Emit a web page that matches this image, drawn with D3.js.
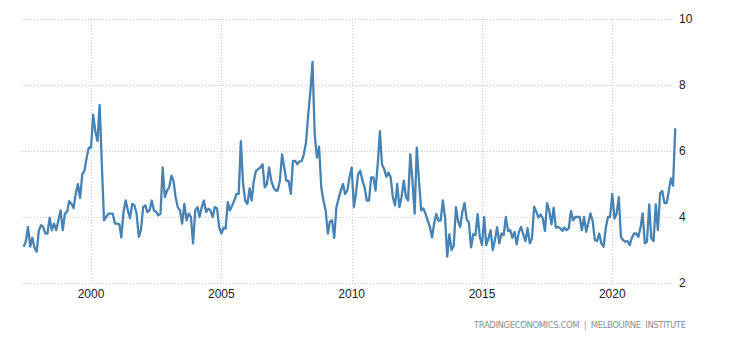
<!DOCTYPE html>
<html>
<head>
<meta charset="utf-8">
<script src="https://cdn.jsdelivr.net/npm/d3@7"></script>
<style>
  body { margin: 0; background: #fff; }
  svg { display: block; font-family: "Liberation Sans", Arial, sans-serif; }
  .grid line { stroke: #c8c8c8; stroke-width: 1; stroke-dasharray: 1,2; }
  .tick-label { font-size: 12px; fill: #222; }
</style>
</head>
<body>
<svg width="730" height="340"></svg>
<script>
// monthly series, first value is June 1997
var startYear = 1997, startMonth = 5;
var values = [
  3.1, 3.25, 3.7, 3.1, 3.37, 3.06, 2.95, 3.6, 3.75, 3.7,
  3.5, 3.5, 3.98, 3.6, 3.8, 3.6, 3.9, 4.2, 3.6, 4.1,
  4.16, 4.48, 4.4, 4.27, 4.7, 5.0, 4.58, 5.3, 5.4, 5.8,
  6.1, 6.1, 7.1, 6.6, 6.3, 7.4, 5.6, 3.9, 4.0, 4.1,
  4.1, 4.1, 3.8, 3.8, 3.78, 3.38, 4.16, 4.5, 4.2, 3.96,
  4.4, 4.35, 4.1, 3.4, 3.6, 4.3, 4.35, 4.15, 4.2, 4.5,
  4.2, 4.16, 4.05, 4.1, 5.5, 4.6, 4.8, 4.9, 5.25, 5.1,
  4.6, 4.3, 4.2, 3.8, 4.4, 3.9, 4.1, 4.0, 3.2, 4.2,
  4.3, 4.0, 4.3, 4.5, 4.15, 4.25, 4.2, 4.0, 4.3, 4.26,
  3.7, 3.5, 3.68, 3.65, 4.45, 4.2, 4.35, 4.5, 4.7, 4.7,
  6.3, 5.0, 4.5, 4.4, 4.87, 4.5, 5.1, 5.4, 5.45, 5.5,
  5.6, 4.9, 5.0, 5.5, 5.1, 4.9, 4.8, 4.8, 5.1, 5.9,
  5.5, 5.1, 5.09, 4.7, 5.7, 5.7, 5.6, 5.68, 5.7, 5.9,
  6.26, 7.09, 7.8, 8.7, 6.5, 5.8, 6.13, 4.9, 4.5, 4.2,
  3.5, 3.86, 3.9, 3.37, 4.3, 4.55, 4.8, 5.0, 4.7, 4.8,
  5.2, 5.5, 4.3, 4.7, 5.3, 5.4, 5.1, 4.9, 4.5, 4.5,
  5.2, 5.2, 4.8, 5.6, 6.6, 5.6, 5.45, 5.22, 5.35, 5.2,
  4.6, 4.35, 5.0, 4.3, 4.6, 5.1, 4.6, 4.5, 5.9, 5.1,
  4.1, 6.1, 5.1, 4.2, 4.26, 4.1, 3.9, 3.7, 3.38, 3.8,
  4.09, 3.89, 3.9, 4.5, 4.0, 2.8, 3.48, 3.0, 3.12, 4.3,
  3.86, 3.69, 4.16, 4.42, 3.93, 3.83, 3.08, 3.48, 3.45, 4.09,
  3.4, 3.15, 4.0, 3.15, 3.35, 3.6, 3.0, 3.3, 3.69, 3.2,
  3.5, 3.45, 4.0, 3.58, 3.6, 3.37, 3.55, 3.17, 3.55, 3.7,
  3.47, 3.27, 3.66, 3.2, 3.35, 4.31, 4.16, 3.98, 4.08, 3.96,
  3.58, 4.42, 4.18, 3.78, 4.28, 3.68, 3.7, 3.66, 3.58, 3.68,
  3.6, 3.66, 4.18, 3.9, 4.0, 4.0, 4.0, 3.6, 4.0, 3.55,
  3.84, 4.11, 3.88, 3.3, 3.27, 3.5, 3.2, 3.1, 3.66, 4.0,
  4.0, 4.7, 3.95, 4.1, 4.6, 3.4, 3.3, 3.25, 3.27, 3.15,
  3.37, 3.5, 3.5, 3.4, 3.7, 4.11, 3.2, 3.25, 4.38, 3.35,
  3.27, 4.38, 3.6, 4.72, 4.79, 4.42, 4.42, 4.77, 5.17, 4.95, 6.69
];
var xTickYears = [2000, 2005, 2010, 2015, 2020];
var yTicks = [2, 4, 6, 8, 10];
var sourceText = "TRADINGECONOMICS.COM\u00a0 |\u00a0 MELBOURNE\u00a0 INSTITUTE";

var svg = d3.select("svg");
var plotLeft = 22, plotRight = 673, plotTop = 19, plotBottom = 283;

var data = values.map(function(v, i) {
    return {date: new Date(startYear, startMonth + i, 1), value: v};
});

var x = d3.scaleTime()
    .domain([new Date(2000, 0, 1), new Date(2020, 0, 1)])
    .range([91, 612.3]);
var y = d3.scaleLinear().domain([2, 10]).range([plotBottom, plotTop]);

var grid = svg.append("g").attr("class", "grid");
grid.selectAll(".hg")
    .data(yTicks)
    .enter().append("line")
    .attr("x1", plotLeft).attr("x2", plotRight)
    .attr("y1", function(d) { return y(d) + 0.5; })
    .attr("y2", function(d) { return y(d) + 0.5; });
grid.selectAll(".vg")
    .data(xTickYears)
    .enter().append("line")
    .attr("x1", function(d) { return Math.round(x(new Date(d, 0, 1))) + 0.5; })
    .attr("x2", function(d) { return Math.round(x(new Date(d, 0, 1))) + 0.5; })
    .attr("y1", plotTop).attr("y2", plotBottom);

svg.append("path")
    .datum(data)
    .attr("fill", "none")
    .attr("stroke", "#4682b4")
    .attr("stroke-width", 2.3)
    .attr("stroke-linejoin", "round")
    .attr("d", d3.line()
        .x(function(d) { return x(d.date); })
        .y(function(d) { return y(d.value); }));

svg.selectAll(".ylab")
    .data(yTicks)
    .enter().append("text")
    .attr("class", "tick-label")
    .attr("x", 679)
    .attr("y", function(d) { return y(d); })
    .attr("dy", "0.35em")
    .text(function(d) { return d; });

svg.selectAll(".xlab")
    .data(xTickYears)
    .enter().append("text")
    .attr("class", "tick-label")
    .attr("x", function(d) { return x(new Date(d, 0, 1)); })
    .attr("y", 298)
    .attr("text-anchor", "middle")
    .text(function(d) { return d; });

svg.append("text")
    .attr("x", 686)
    .attr("y", 328)
    .attr("text-anchor", "end")
    .attr("textLength", 212)
    .attr("font-family", "DejaVu Sans, sans-serif")
    .attr("font-size", 8.5)
    .attr("fill", "#8a8f99")
    .text(sourceText);
</script>
</body>
</html>
